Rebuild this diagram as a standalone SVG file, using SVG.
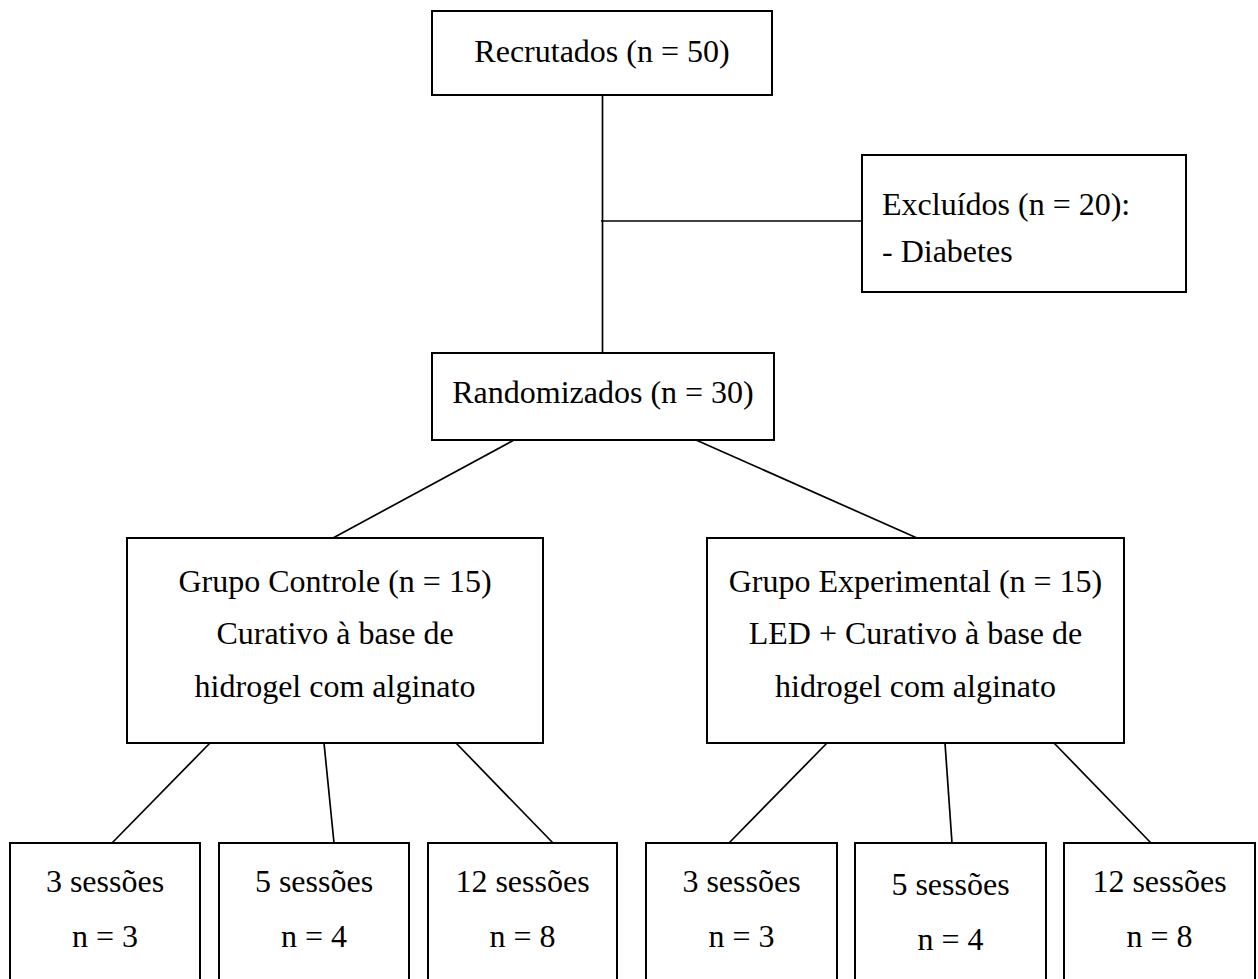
<svg xmlns="http://www.w3.org/2000/svg" width="1258" height="979" viewBox="0 0 1258 979">
<style>
.box{fill:#fff;stroke:#000;stroke-width:2}
.ln{stroke:#000;stroke-width:1.7;fill:none}
text{font-family:"Liberation Serif","Times New Roman",serif;font-size:32px;fill:#000}
.c{text-anchor:middle}
</style>
<rect width="1258" height="979" fill="#fff"/>
<g id="connectors">
<line class="ln" x1="602.5" y1="95" x2="602.5" y2="353"/>
<line class="ln" x1="601" y1="221" x2="862" y2="221"/>
<line class="ln" x1="514" y1="440" x2="333" y2="538"/>
<line class="ln" x1="696" y1="440" x2="917" y2="538"/>
<line class="ln" x1="210" y1="743" x2="112" y2="843"/>
<line class="ln" x1="324" y1="743" x2="334" y2="843"/>
<line class="ln" x1="456" y1="743" x2="553" y2="843"/>
<line class="ln" x1="827" y1="743" x2="729" y2="843"/>
<line class="ln" x1="945" y1="743" x2="952" y2="843"/>
<line class="ln" x1="1054" y1="743" x2="1151" y2="843"/>
</g>
<g id="recrutados">
<rect class="box" x="432" y="11" width="340" height="84"/>
<text class="c" x="602" y="62">Recrutados (n = 50)</text>
</g>
<g id="excluidos">
<rect class="box" x="862" y="155" width="324" height="137"/>
<text x="882" y="215">Excluídos (n = 20):</text>
<text x="882" y="262">- Diabetes</text>
</g>
<g id="randomizados">
<rect class="box" x="432" y="353" width="342" height="87"/>
<text class="c" x="603" y="403">Randomizados (n = 30)</text>
</g>
<g id="grupo-controle">
<rect class="box" x="127" y="538" width="416" height="205"/>
<text class="c" x="335" y="592">Grupo Controle (n = 15)</text>
<text class="c" x="335" y="644">Curativo à base de</text>
<text class="c" x="335" y="697">hidrogel com alginato</text>
</g>
<g id="grupo-experimental">
<rect class="box" x="707" y="538" width="417" height="205"/>
<text class="c" x="915.5" y="592">Grupo Experimental (n = 15)</text>
<text class="c" x="915.5" y="644">LED + Curativo à base de</text>
<text class="c" x="915.5" y="697">hidrogel com alginato</text>
</g>
<g id="c3">
<rect class="box" x="10" y="843" width="190" height="150"/>
<text class="c" x="105" y="892">3 sessões</text>
<text class="c" x="105" y="947">n = 3</text>
</g>
<g id="c5">
<rect class="box" x="219" y="843" width="190" height="150"/>
<text class="c" x="314" y="892">5 sessões</text>
<text class="c" x="314" y="947">n = 4</text>
</g>
<g id="c12">
<rect class="box" x="428" y="843" width="189" height="150"/>
<text class="c" x="522.5" y="892">12 sessões</text>
<text class="c" x="522.5" y="947">n = 8</text>
</g>
<g id="e3">
<rect class="box" x="646" y="843" width="191" height="150"/>
<text class="c" x="741.5" y="892">3 sessões</text>
<text class="c" x="741.5" y="947">n = 3</text>
</g>
<g id="e5">
<rect class="box" x="855" y="843" width="191" height="150"/>
<text class="c" x="950.5" y="895">5 sessões</text>
<text class="c" x="950.5" y="950">n = 4</text>
</g>
<g id="e12">
<rect class="box" x="1064" y="843" width="191" height="150"/>
<text class="c" x="1159.5" y="892">12 sessões</text>
<text class="c" x="1159.5" y="947">n = 8</text>
</g>
</svg>
